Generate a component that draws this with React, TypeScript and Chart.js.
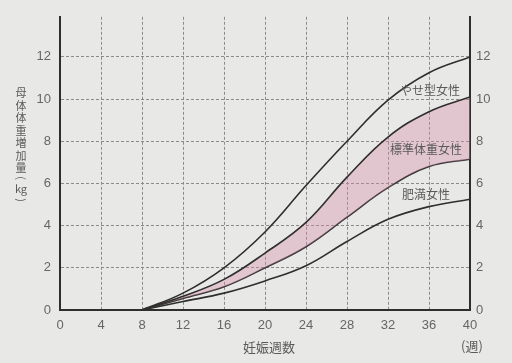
import React, { useEffect, useRef } from "react";
import { Chart, registerables } from "chart.js";

Chart.register(...registerables);

const weeks = [8, 12, 16, 20, 24, 28, 32, 36, 40];
const thinGain = [0, 0.8, 2.0, 3.7, 5.9, 8.0, 9.95, 11.25, 12.0];
const stdUpperGain = [0, 0.65, 1.45, 2.7, 4.15, 6.3, 8.2, 9.4, 10.1];
const stdLowerGain = [0, 0.55, 1.1, 2.0, 3.0, 4.4, 5.8, 6.8, 7.15];
const obeseGain = [0, 0.4, 0.8, 1.38, 2.1, 3.25, 4.3, 4.9, 5.25];

const xTicks = [0, 4, 8, 12, 16, 20, 24, 28, 32, 36, 40];
const yTicks = [0, 2, 4, 6, 8, 10, 12];

const seriesLabels = ["やせ型女性", "標準体重女性", "肥満女性"];
const xTitle = "妊娠週数";
const xUnit = "(週)";
const yTitleChars = ["母", "体", "体", "重", "増", "加", "量"];
const yUnit = "kg";

const CJK = '"Noto Sans CJK JP", "Noto Sans", sans-serif';
const NUM = '"Liberation Sans", "DejaVu Sans", sans-serif';
const TEXT = "#5a5a5a";
const LINE = "#2e2e2e";

const pts = (ys: number[]) => weeks.map((w, i) => ({ x: w, y: ys[i] }));

const textPlugin = {
  id: "texts",
  afterDraw(chart: any) {
    const ctx = chart.ctx as CanvasRenderingContext2D;
    const x = chart.scales.x;
    const y = chart.scales.y;
    ctx.save();
    ctx.fillStyle = TEXT;
    ctx.textAlign = "center";
    ctx.textBaseline = "middle";
    ctx.font = `12px ${CJK}`;
    ctx.fillText(seriesLabels[0], x.getPixelForValue(36.1), y.getPixelForValue(10.4));
    ctx.fillText(seriesLabels[1], x.getPixelForValue(35.7), y.getPixelForValue(7.6));
    ctx.fillText(seriesLabels[2], x.getPixelForValue(35.7), y.getPixelForValue(5.5));
    ctx.font = `13px ${CJK}`;
    ctx.fillText(xTitle, 269, 347);
    ctx.fillText(xUnit, 472, 346);
    // vertical y title
    ctx.font = `11px ${CJK}`;
    let cy = 93;
    for (const c of yTitleChars) {
      ctx.fillText(c, 21, cy);
      cy += 12.5;
    }
    const paren = (ch: string, py: number) => {
      ctx.save();
      ctx.translate(21, py);
      ctx.rotate(Math.PI / 2);
      ctx.fillText(ch, 0, 0);
      ctx.restore();
    };
    paren("(", 178);
    ctx.fillText(yUnit, 21, 189);
    paren(")", 200);
    ctx.restore();
  },
};

export default function App() {
  const ref = useRef<HTMLCanvasElement>(null);
  useEffect(() => {
    if (!ref.current) return;
    const lineDs = (label: string, data: number[], extra: any = {}) => ({
      label,
      data: pts(data),
      borderColor: LINE,
      borderWidth: 1.6,
      pointRadius: 0,
      tension: 0.4,
      fill: false,
      ...extra,
    });
    const gridColor = (ctx: any) => {
      const v = ctx.tick ? ctx.tick.value : 0;
      if (ctx.scale.axis === "x") return v === 0 || v === 40 ? "rgba(0,0,0,0)" : "#8a8a8a";
      return v === 0 ? "rgba(0,0,0,0)" : "#8a8a8a";
    };
    const chart = new Chart(ref.current, {
      type: "line",
      data: {
        datasets: [
          lineDs(seriesLabels[0], thinGain),
          lineDs(seriesLabels[1] + "上", stdUpperGain, {
            fill: "+1",
            backgroundColor: "rgba(212,140,170,0.38)",
          }),
          lineDs(seriesLabels[1] + "下", stdLowerGain),
          lineDs(seriesLabels[2], obeseGain),
        ] as any,
      },
      options: {
        animation: false,
        responsive: false,
        layout: { padding: { top: 16 } },
        plugins: {
          legend: { display: false },
          tooltip: { enabled: false },
        },
        scales: {
          x: {
            type: "linear",
            min: 0,
            max: 40,
            afterBuildTicks: (s: any) => {
              s.ticks = xTicks.map((v) => ({ value: v }));
            },
            afterFit: (s: any) => {
              s.height = 53;
            },
            ticks: {
              color: "#666",
              font: { family: NUM, size: 13 },
              padding: 8,
              maxRotation: 0,
            },
            grid: { color: gridColor, lineWidth: 1, drawTicks: false },
            border: { display: true, color: LINE, width: 2, dash: [3, 2] as any },
          },
          y: {
            type: "linear",
            position: "left",
            min: 0,
            max: 13.9,
            afterBuildTicks: (s: any) => {
              s.ticks = yTicks.map((v) => ({ value: v }));
            },
            afterFit: (s: any) => {
              s.width = 60;
            },
            ticks: {
              color: "#666",
              font: { family: NUM, size: 13 },
              padding: 9,
            },
            grid: { color: gridColor, lineWidth: 1, drawTicks: false },
            border: { display: true, color: LINE, width: 2, dash: [3, 2] as any },
          },
          y2: {
            type: "linear",
            position: "right",
            min: 0,
            max: 13.9,
            afterBuildTicks: (s: any) => {
              s.ticks = yTicks.map((v) => ({ value: v }));
            },
            afterFit: (s: any) => {
              s.width = 42;
            },
            ticks: {
              color: "#666",
              font: { family: NUM, size: 13 },
              padding: 6,
            },
            grid: { display: false, drawTicks: false },
            border: { display: true, color: LINE, width: 2 },
          },
        },
      } as any,
      plugins: [textPlugin],
    });
    return () => chart.destroy();
  }, []);
  return (
    <div
      style={{
        position: "absolute",
        left: 0,
        top: 0,
        width: 512,
        height: 363,
        background: "#e8e8e6",
      }}
    >
      <canvas ref={ref} width={512} height={363} />
    </div>
  );
}
